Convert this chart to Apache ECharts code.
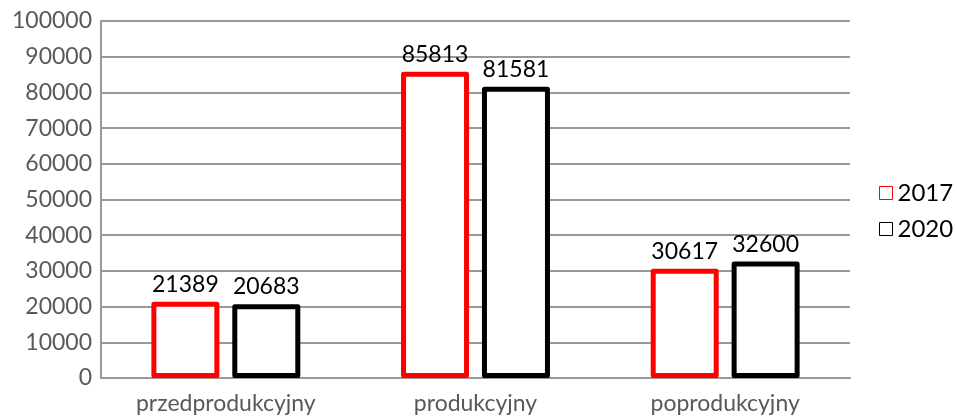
<!DOCTYPE html>
<html lang="pl">
<head>
<meta charset="utf-8">
<title>Wykres</title>
<script src="https://cdn.jsdelivr.net/npm/echarts@6/dist/echarts.min.js"></script>
<style>
  html, body { margin: 0; padding: 0; background: #fff; }
  #chart { width: 957px; height: 416px; }
</style>
</head>
<body>
<div id="chart"></div>
<script>
var categories = ['przedprodukcyjny', 'produkcyjny', 'poprodukcyjny'];
var values2017 = [21389, 85813, 30617];
var values2020 = [20683, 81581, 32600];

var myChart = echarts.init(document.getElementById('chart'));
var font = 'Lato, "Open Sans", sans-serif';

myChart.setOption({
    animation: false,
    grid: { left: 101, right: 107, top: 21, bottom: 38 },
    legend: {
        orient: 'vertical',
        left: 874,
        top: 176,
        itemWidth: 13,
        itemHeight: 13,
        itemGap: 12,
        icon: 'rect',
        textStyle: { fontFamily: font, fontSize: 24, color: '#000' },
        data: [
            { name: '2017', itemStyle: { color: '#fff', borderColor: '#ff0000', borderWidth: 1 } },
            { name: '2020', itemStyle: { color: '#fff', borderColor: '#000', borderWidth: 1 } }
        ]
    },
    xAxis: {
        type: 'category',
        data: categories,
        axisLine: { lineStyle: { color: '#999', width: 2 } },
        axisTick: { show: false },
        axisLabel: { fontFamily: font, fontSize: 23, color: '#595959', margin: 14 }
    },
    yAxis: {
        type: 'value',
        min: 0,
        max: 100000,
        interval: 10000,
        axisLine: { show: true, lineStyle: { color: '#999', width: 2 } },
        axisTick: { show: false },
        splitLine: { lineStyle: { color: '#999', width: 2 } },
        axisLabel: {
            fontFamily: font, fontSize: 23, color: '#595959', margin: 9,
            formatter: function (v) { return String(v); }
        }
    },
    series: [
        {
            name: '2017',
            type: 'bar',
            data: values2017,
            barWidth: 68,
            barGap: '19%',
            itemStyle: { color: '#fff', borderColor: '#ff0000', borderWidth: 5, borderJoin: 'round' },
            label: { show: true, position: 'top', distance: 6, fontFamily: font, fontSize: 23, color: '#000' }
        },
        {
            name: '2020',
            type: 'bar',
            data: values2020,
            barWidth: 68,
            itemStyle: { color: '#fff', borderColor: '#000', borderWidth: 5, borderJoin: 'round' },
            label: { show: true, position: 'top', distance: 6, fontFamily: font, fontSize: 23, color: '#000' }
        }
    ]
});
</script>
</body>
</html>
